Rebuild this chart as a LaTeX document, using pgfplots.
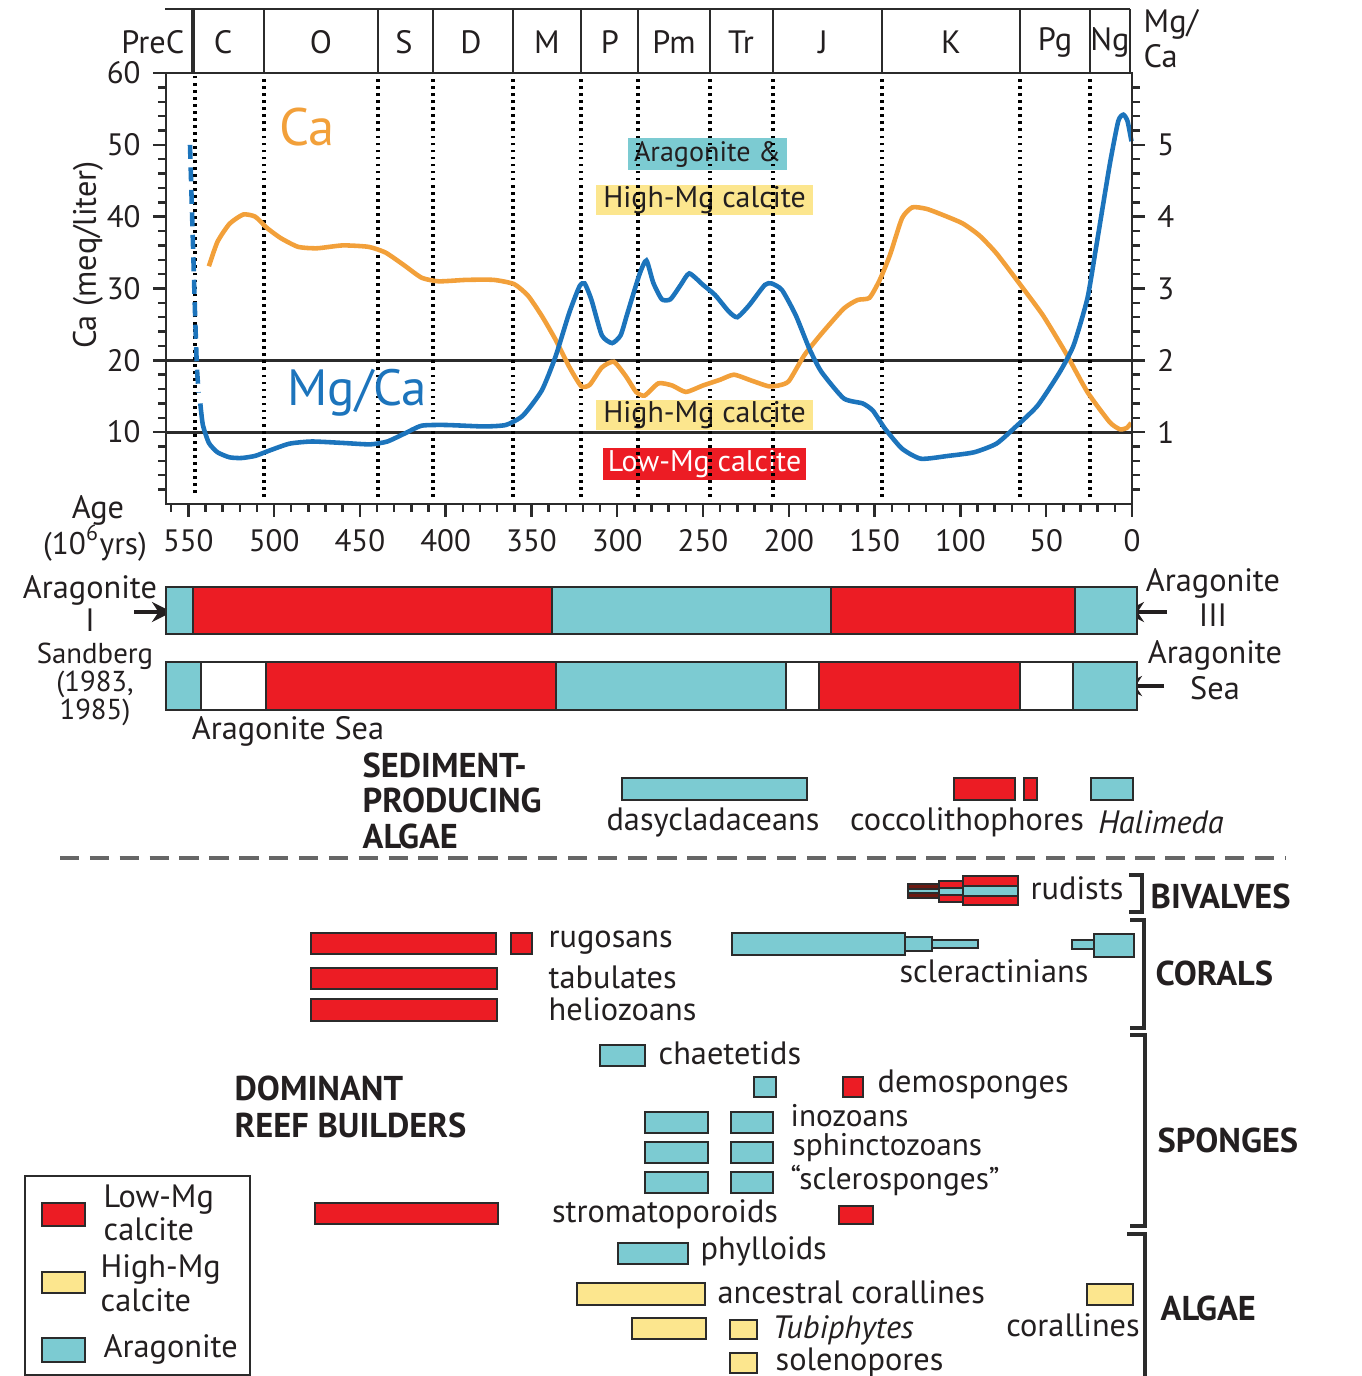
\documentclass[border=0pt]{standalone}
\usepackage{pgfplots}
\pgfplotsset{compat=1.18}
\usepackage{fontspec}
\setmainfont{PT Sans}
\usetikzlibrary{arrows.meta}

\definecolor{cteal}{HTML}{7CCBD2}
\definecolor{cred}{HTML}{EC1C24}
\definecolor{cyel}{HTML}{FCE68E}
\definecolor{corange}{HTML}{F2A03A}
\definecolor{cblue}{HTML}{1C74BC}
\definecolor{cedge}{HTML}{2B2B2B}
\definecolor{ctext}{HTML}{231F20}
\definecolor{cdark}{HTML}{6B1A12}

\newcommand{\fs}{\fontsize{9.2}{10}\selectfont}
\newcommand{\fsm}{\fontsize{8.2}{9}\selectfont}
\newcommand{\fsp}{\fontsize{8.9}{10}\selectfont}
\newcommand{\ft}{\fontsize{8.8}{10}\selectfont}
\newcommand{\fb}{\fontsize{9.8}{11}\selectfont\bfseries}
% rectangle through the axis: style, x1, x2, y1, y2
\newcommand{\bx}[5]{\addplot[#1] coordinates {(#2,#4) (#3,#4) (#3,#5) (#2,#5)} -- cycle;}

\tikzset{
  tb/.style={fill=cteal, draw=cedge, line width=0.75pt},
  rb/.style={fill=cred, draw=cedge, line width=0.75pt},
  yb/.style={fill=cyel, draw=cedge, line width=0.75pt},
  wb/.style={fill=white, draw=cedge, line width=0.75pt},
  db/.style={fill=cdark, draw=cedge, line width=0.75pt},
  ln/.style={draw=cedge, line width=0.75pt},
  vdot/.style={draw=black, line width=1.05pt, dash pattern=on 0.8pt off 1.2pt},
  lw/.style={anchor=west, inner sep=0pt},
}
\pgfplotsset{
  pg/.style={scale only axis, width=136.2mm, height=137.6mm, hide axis, clip=false,
    y dir=reverse, ymin=0, ymax=1376, at={(0,0)}, anchor=south west},
}

\begin{document}
\begin{tikzpicture}[font=\fs, text=ctext]

% ---------- page axis, pixel units: header, labels, legend, brackets
\begin{axis}[pg, xmin=0, xmax=1362]
  % period header
  \addplot[ln] coordinates {(165,9) (1130,9)};
  \addplot[draw=cedge, line width=1.3pt] coordinates {(193,9) (193,73)};
  \addplot[ln] coordinates {(264,9) (264,73)};
  \addplot[ln] coordinates {(378,9) (378,73)};
  \addplot[ln] coordinates {(433,9) (433,73)};
  \addplot[ln] coordinates {(513,9) (513,73)};
  \addplot[ln] coordinates {(581,9) (581,73)};
  \addplot[ln] coordinates {(638,9) (638,73)};
  \addplot[ln] coordinates {(710,9) (710,73)};
  \addplot[ln] coordinates {(773,9) (773,73)};
  \addplot[ln] coordinates {(882,9) (882,73)};
  \addplot[ln] coordinates {(1020,9) (1020,73)};
  \addplot[ln] coordinates {(1090,9) (1090,73)};
  \addplot[ln] coordinates {(1130,9) (1130,73)};
  \node[anchor=east, inner sep=0pt] at (axis cs:185,42) {PreC};
  \node at (axis cs:223,42) {C};
  \node at (axis cs:321,42) {O};
  \node at (axis cs:404,42) {S};
  \node at (axis cs:471,42) {D};
  \node at (axis cs:547,42) {M};
  \node at (axis cs:610,42) {P};
  \node at (axis cs:674,42) {Pm};
  \node at (axis cs:741,42) {Tr};
  \node at (axis cs:823,42) {J};
  \node at (axis cs:951,42) {K};
  \node at (axis cs:1055,42) {Pg};
  \node at (axis cs:1110,42) {Ng};
  \node[lw] at (axis cs:1143,24) {Mg/};
  \node[lw] at (axis cs:1143,56) {Ca};
  \node[rotate=90] at (axis cs:88,255) {Ca (meq/liter)};
  \node at (axis cs:98,510) {Age};
  \node[font=\fsp] at (axis cs:95,543) {(10\textsuperscript{6}yrs)};

  % mineralogy bands: labels and arrows
  \node at (axis cs:90,590) {Aragonite};
  \node at (axis cs:90,620) {I};
  \addplot[draw=ctext, line width=1.2pt, -{Stealth[length=2mm,width=2mm]}] coordinates {(134,612) (172,612)};
  \node at (axis cs:1213,583) {Aragonite};
  \node at (axis cs:1213,615) {III};
  \addplot[draw=ctext, line width=1.2pt, -{Stealth[length=2mm,width=2mm]}] coordinates {(1167,612) (1124,612)};
  \node[font=\fsm, inner sep=0pt] at (axis cs:95,656) {Sandberg};
  \node[font=\fsm, inner sep=0pt] at (axis cs:95,684) {(1983,};
  \node[font=\fsm, inner sep=0pt] at (axis cs:95,712) {1985)};
  \node at (axis cs:1215,655) {Aragonite};
  \node at (axis cs:1215,688) {Sea};
  \addplot[draw=ctext, line width=1.2pt, -{Stealth[length=2mm,width=2mm]}] coordinates {(1164,686) (1122,686)};
  \node at (axis cs:288,731) {Aragonite Sea};
  \node[text=white] at (axis cs:372,610) {Calcite I};
  \node at (axis cs:690,610) {Aragonite II};
  \node[text=white] at (axis cs:952,610) {Calcite II};
  \node[font=\fontsize{11}{12}\selectfont] at (axis cs:233,686) {?};
  \node[text=white] at (axis cs:408,686) {Calcite Sea};
  \node at (axis cs:671,686) {Aragonite Sea};
  \node[font=\fontsize{11}{12}\selectfont] at (axis cs:802,686) {?};
  \node[text=white] at (axis cs:917,686) {Calcite Sea};
  \node[font=\fontsize{11}{12}\selectfont] at (axis cs:1046,686) {?};

  % sediment-producing algae
  \node[lw, font=\fb] at (axis cs:362,765) {SEDIMENT-};
  \node[lw, font=\fb] at (axis cs:362,800) {PRODUCING};
  \node[lw, font=\fb] at (axis cs:362,836) {ALGAE};
  \node at (axis cs:713,822) {dasycladaceans};
  \node at (axis cs:967,822) {coccolithophores};
  \node at (axis cs:1161,822) {\textit{Halimeda}};
  \addplot[draw=black!60, line width=1.1pt, dash pattern=on 5.5pt off 3pt] coordinates {(60,858) (1285,858)};

  % reef builders
  \node[lw] at (axis cs:1030,888) {rudists};
  \node[lw] at (axis cs:548,943) {rugosans};
  \node[lw] at (axis cs:548,977) {tabulates};
  \node[lw] at (axis cs:548,1009) {heliozoans};
  \node at (axis cs:994,971) {scleractinians};
  \node[lw] at (axis cs:658,1053) {chaetetids};
  \node[lw] at (axis cs:877,1085) {demosponges};
  \node[lw, font=\fsp] at (axis cs:790,1116) {inozoans};
  \node[lw, font=\fsp] at (axis cs:792,1148) {sphinctozoans};
  \node[lw, font=\fsp] at (axis cs:790,1181) {“sclerosponges”};
  \node at (axis cs:665,1214) {stromatoporoids};
  \node[lw, font=\fb] at (axis cs:234,1088) {DOMINANT};
  \node[lw, font=\fb] at (axis cs:234,1125) {REEF BUILDERS};
  \node[lw] at (axis cs:700,1251) {phylloids};
  \node[lw] at (axis cs:717,1292) {ancestral corallines};
  \node[lw] at (axis cs:772,1330) {\textit{Tubiphytes}};
  \node[lw] at (axis cs:775,1362) {solenopores};
  \node at (axis cs:1073,1325) {corallines};

  % group brackets
  \addplot[draw=cedge, line width=1pt] coordinates {(1129,875) (1142,875) (1142,912) (1129,912)};
  \addplot[draw=cedge, line width=1pt] coordinates {(1130,920) (1144,920) (1144,1028) (1130,1028)};
  \addplot[draw=cedge, line width=1pt] coordinates {(1130,1035) (1145,1035) (1145,1226) (1130,1226)};
  \addplot[draw=cedge, line width=1pt] coordinates {(1127,1234) (1145,1234) (1145,1376)};
  \node[lw, font=\fb] at (axis cs:1150,896) {BIVALVES};
  \node[lw, font=\fb] at (axis cs:1155,973) {CORALS};
  \node[lw, font=\fb] at (axis cs:1157,1140) {SPONGES};
  \node[lw, font=\fb] at (axis cs:1160,1308) {ALGAE};

  % legend
  \addplot[draw=cedge, line width=0.8pt] coordinates {(25,1176) (250,1176) (250,1375) (25,1375)} -- cycle;
  \bx{rb}{42}{85}{1203}{1226}
  \bx{yb}{42}{85}{1272}{1293}
  \bx{tb}{42}{85}{1338}{1362}
  \node[lw] at (axis cs:103,1200) {Low-Mg};
  \node[lw] at (axis cs:103,1229) {calcite};
  \node[lw] at (axis cs:100,1269) {High-Mg};
  \node[lw] at (axis cs:100,1300) {calcite};
  \node[lw] at (axis cs:103,1349) {Aragonite};
\end{axis}

% ---------- bars: x = age (Ma), y = pixel rows
\begin{axis}[pg, x dir=reverse, xmin=-134.0, xmax=659.7]
  % Stanley & Hardie mineralogy intervals
  \bx{tb}{562.9}{547.2}{587}{634}
  \bx{rb}{547.2}{338.0}{587}{634}
  \bx{tb}{338.0}{175.4}{587}{634}
  \bx{rb}{175.4}{33.2}{587}{634}
  \bx{tb}{33.2}{-2.9}{587}{634}
  % Sandberg (1983, 1985)
  \bx{tb}{562.9}{542.5}{662}{710}
  \bx{wb}{542.5}{504.7}{662}{710}
  \bx{rb}{504.7}{335.7}{662}{710}
  \bx{tb}{335.7}{201.6}{662}{710}
  \bx{wb}{201.6}{182.4}{662}{710}
  \bx{rb}{182.4}{65.3}{662}{710}
  \bx{wb}{65.3}{34.4}{662}{710}
  \bx{tb}{34.4}{-2.9}{662}{710}
  % sediment-producing algae
  \bx{tb}{297.2}{189.4}{778}{800}
  \bx{rb}{103.7}{68.2}{778}{800}
  \bx{rb}{62.9}{55.4}{778}{800}
  \bx{tb}{23.9}{-0.6}{778}{800}
  % rudists
  \bx{db}{130.5}{112.5}{884}{898}
  \bx{tb}{130.5}{112.5}{889}{893}
  \bx{rb}{112.5}{98.5}{881}{902}
  \bx{tb}{112.5}{98.5}{888}{895}
  \bx{rb}{98.5}{66.4}{876}{905}
  \bx{tb}{98.5}{66.4}{886}{896}
  % corals
  \bx{rb}{478.4}{370.6}{933}{954}
  \bx{rb}{361.9}{349.7}{933}{954}
  \bx{rb}{478.4}{370.0}{968}{989}
  \bx{rb}{478.4}{370.0}{999}{1021}
  \bx{tb}{233.1}{132.3}{933}{955}
  \bx{tb}{132.3}{116.6}{937}{951}
  \bx{tb}{116.6}{89.7}{940}{948}
  \bx{tb}{35.0}{22.1}{940}{949}
  \bx{tb}{22.1}{-1.2}{934}{957}
  % sponges
  \bx{tb}{310.0}{283.8}{1045}{1066}
  \bx{tb}{220.3}{207.5}{1077}{1097}
  \bx{rb}{168.4}{156.8}{1077}{1097}
  \bx{tb}{283.8}{247.1}{1112}{1133}
  \bx{tb}{233.7}{209.2}{1112}{1133}
  \bx{tb}{283.8}{247.1}{1142}{1163}
  \bx{tb}{233.7}{209.2}{1142}{1163}
  \bx{tb}{283.8}{247.1}{1172}{1193}
  \bx{tb}{233.7}{209.2}{1172}{1193}
  \bx{rb}{476.1}{369.5}{1203}{1224}
  \bx{rb}{170.7}{150.9}{1206}{1224}
  % algae
  \bx{tb}{299.5}{258.7}{1243}{1264}
  \bx{yb}{323.4}{248.8}{1283}{1305}
  \bx{yb}{291.4}{248.3}{1318}{1339}
  \bx{yb}{234.3}{218.5}{1320}{1339}
  \bx{yb}{234.3}{218.5}{1353}{1373}
  \bx{yb}{26.2}{-0.6}{1284}{1305}
\end{axis}

% ---------- Ca and Mg/Ca through time
\begin{axis}[
  at={(16.6mm,87.2mm)}, anchor=south west, scale only axis,
  width=96.6mm, height=43.1mm,
  x dir=reverse, xmin=0, xmax=563, ymin=0, ymax=60,
  xtick={0,50,...,550}, minor xtick={10,20,...,560},
  ytick={10,20,...,60}, minor ytick={2,4,...,58},
  xtick pos=lower, ytick pos=left, tick align=outside,
  major tick length=1.3mm, minor tick length=0.8mm,
  axis line style={draw=cedge, line width=0.8pt},
  tick style={draw=cedge, line width=0.7pt},
  tick label style={font=\ft, text=ctext},
  /pgf/number format/assume math mode=true,
  clip=false,
]
  \addplot[draw=cedge, line width=0.8pt] coordinates {(0,20) (563,20)};
  \addplot[draw=cedge, line width=0.8pt] coordinates {(0,10) (563,10)};

  \node[fill=cteal, minimum width=15.9mm, minimum height=3.2mm, inner sep=0pt, font=\fontsize{8}{9}\selectfont] at (axis cs:247.4,48.7) {Aragonite \&};
  \node[fill=cyel, minimum width=21.7mm, minimum height=3.0mm, inner sep=0pt, font=\fontsize{8.5}{9}\selectfont] at (axis cs:249.1,42.3) {High-Mg calcite};
  \node[fill=cyel, minimum width=21.7mm, minimum height=3.0mm, inner sep=0pt, font=\fontsize{8.5}{9}\selectfont] at (axis cs:249.1,12.4) {High-Mg calcite};
  \node[fill=cred, text=white, minimum width=20.3mm, minimum height=3.2mm, inner sep=0pt, font=\fontsize{8.5}{9}\selectfont] at (axis cs:249.1,5.6) {Low-Mg calcite};

  % period boundaries
  \addplot[vdot] coordinates {(546.0,1.5) (546.0,59.6)};
  \addplot[vdot] coordinates {(505.8,1.0) (505.8,59.6)};
  \addplot[vdot] coordinates {(439.4,1.0) (439.4,59.6)};
  \addplot[vdot] coordinates {(407.3,1.0) (407.3,59.6)};
  \addplot[vdot] coordinates {(360.7,1.0) (360.7,59.6)};
  \addplot[vdot] coordinates {(321.1,1.0) (321.1,59.6)};
  \addplot[vdot] coordinates {(287.9,1.0) (287.9,59.6)};
  \addplot[vdot] coordinates {(245.9,1.0) (245.9,59.6)};
  \addplot[vdot] coordinates {(209.2,1.0) (209.2,59.6)};
  \addplot[vdot] coordinates {(145.7,1.0) (145.7,59.6)};
  \addplot[vdot] coordinates {(65.3,1.0) (65.3,59.6)};
  \addplot[vdot] coordinates {(24.5,1.0) (24.5,59.6)};

  % Ca (meq/liter)
  \addplot[draw=corange, line width=1.3pt, smooth, tension=0.35] coordinates {
    (538,33.1) (533,36.5) (526,39.0) (518,40.3) (511,40.0) (504,38.4) (496,37.0)
    (486,35.8) (475,35.6) (460,36.0) (445,35.8) (435,35.0) (424,33.2) (414,31.5)
    (404,31.0) (388,31.2) (372,31.2) (360,30.6) (352,29.0) (344,26.2) (336,22.9)
    (328,19.1) (321,16.4) (316,16.6) (309,19.0) (302,19.8) (295,17.8) (289,15.6)
    (284,15.1) (276,16.8) (268,16.5) (260,15.6) (250,16.5) (240,17.3) (232,18.0)
    (222,17.2) (212,16.4) (206,16.5) (200,17.1) (191,20.7) (181,23.7) (168,27.2)
    (160,28.4) (153,28.7) (147,31.2) (141,34.7) (134,39.8) (128,41.3) (120,41.1)
    (113,40.5) (99,39.1) (89,37.4) (79,34.9) (65,30.5) (52,26.3) (39,21.2)
    (26,15.6) (13,11.4) (7,10.4) (3,10.6) (0.5,11.3)};

  % Mg/Ca (x10 on the Ca scale)
  \addplot[draw=cblue, line width=1.3pt, dash pattern=on 4pt off 2.4pt] coordinates {
    (549,50) (547.5,38) (546,26) (545,19) (544,15.5)};
  \addplot[draw=cblue, line width=1.3pt, smooth, tension=0.35] coordinates {
    (543,14) (541.5,11) (538,8.5) (533,7.2) (526,6.5) (519,6.4) (511,6.7) (502,7.5)
    (491,8.4) (478,8.7) (460,8.5) (444,8.3) (434,8.7) (424,9.8) (414,10.9) (400,11.0)
    (378,10.8) (365,11.0) (355,12.3) (344,15.8) (336,20.5) (328,26.6) (322,30.3)
    (319,30.7) (315,28.4) (309,23.5) (303,22.4) (298,23.5) (294,26.6) (287,32.0)
    (283,33.9) (279,30.8) (274,28.5) (269,28.5) (263,30.5) (258,32.1) (250,30.5)
    (243,29.1) (235,26.8) (230,26.0) (223,27.7) (214,30.5) (210,30.7) (204,29.8)
    (196,26.3) (188,21.6) (181,18.4) (168,14.7) (157,14.0) (151,13.0) (144,10.5)
    (134,7.7) (123,6.3) (107,6.7) (92,7.2) (79,8.4) (68,10.7) (55,13.7) (42,18.4)
    (34,22.1) (26,28.6) (21,35.6) (13,47.2) (8,53.3) (5,54.2) (2.6,53.3) (0.3,50.5)};

  \node[text=corange, font=\fontsize{15}{16}\selectfont] at (axis cs:480.7,52.5) {Ca};
  \node[text=cblue, font=\fontsize{14.5}{16}\selectfont] at (axis cs:451.6,15.5) {Mg/Ca};
\end{axis}

% ---------- right axis, Mg/Ca
\begin{axis}[
  at={(16.6mm,87.2mm)}, anchor=south west, scale only axis,
  width=96.6mm, height=43.1mm,
  x dir=reverse, xmin=0, xmax=563, ymin=0, ymax=6,
  axis x line=none, axis y line*=right,
  ytick={1,2,3,4,5}, minor ytick={0.2,0.4,...,5.8},
  tick align=outside, major tick length=1.3mm, minor tick length=0.8mm,
  axis line style={draw=cedge, line width=0.8pt},
  tick style={draw=cedge, line width=0.7pt},
  tick label style={font=\ft, text=ctext},
  /pgf/number format/assume math mode=true,
]
  \addplot[draw=none] coordinates {(0,0) (563,6)};
\end{axis}

\pgfresetboundingbox
\path[use as bounding box] (0,0) rectangle (136.2mm,137.6mm);
\end{tikzpicture}
\end{document}
